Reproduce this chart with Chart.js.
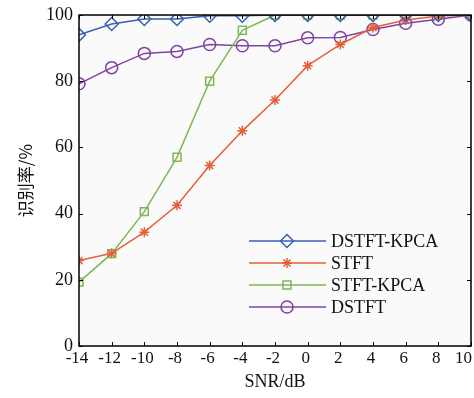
<!DOCTYPE html>
<html>
<head>
<meta charset="utf-8">
<script src="https://cdn.jsdelivr.net/npm/chart.js@4/dist/chart.umd.min.js"></script>
<style>
  html, body { margin: 0; padding: 0; background: #fff; }
  #wrap { width: 474px; height: 398px; }
</style>
</head>
<body>
<div id="wrap"><canvas id="chart"></canvas></div>
<script>
const snr = [-14, -12, -10, -8, -6, -4, -2, 0, 2, 4, 6, 8, 10];
const dstftKpca = [94, 97.3, 98.8, 98.8, 99.8, 99.8, 100, 100, 100, 100, 100, 100, 100];
const stft = [25.8, 28, 34.4, 42.5, 54.5, 65, 74.3, 84.7, 91.1, 96.2, 98.5, 99.7, 100];
const stftKpca = [19.3, 27.9, 40.6, 57, 80, 95.4, 100, 100, 100, 100, 100, 100, 100];
const dstft = [79.2, 84.1, 88.4, 89, 91.1, 90.7, 90.7, 93.1, 93.2, 95.6, 97.5, 98.7, 100];
const seriesNames = ['DSTFT-KPCA', 'STFT', 'STFT-KPCA', 'DSTFT'];
const yTicks = [0, 20, 40, 60, 80, 100];

const serif = '"Liberation Serif", "Times New Roman", serif';
Chart.defaults.font.family = serif;
Chart.defaults.color = '#111';

const toPts = arr => arr.map((v, i) => ({ x: snr[i], y: v }));

const makeSet = function makeSet(label, data, color, style, radius) {
  return {
    label: label,
    data: toPts(data),
    borderColor: color,
    backgroundColor: 'rgba(0,0,0,0)',
    borderWidth: 1.5,
    pointStyle: style,
    pointRadius: radius,
    pointBorderColor: color,
    pointBackgroundColor: 'rgba(0,0,0,0)',
    pointBorderWidth: 1.5,
    tension: 0
  };
}

const frame = {
  id: 'frame',
  beforeDraw: chart => {
    const { ctx, chartArea: a } = chart;
    ctx.save();
    ctx.fillStyle = '#fafafa';
    ctx.fillRect(a.left, a.top, a.right - a.left, a.bottom - a.top);
    ctx.restore();
  },
  afterDraw: chart => {
    const { ctx, chartArea: a } = chart;
    const xs = chart.scales.x, ys = chart.scales.y;
    ctx.save();
    ctx.strokeStyle = '#000';
    ctx.lineWidth = 1.5;
    ctx.strokeRect(a.left, a.top, a.right - a.left, a.bottom - a.top);
    ctx.lineWidth = 1;
    ctx.beginPath();
    snr.forEach(v => {
      const px = Math.round(xs.getPixelForValue(v)) + 0.5;
      ctx.moveTo(px, a.bottom); ctx.lineTo(px, a.bottom - 4);
      ctx.moveTo(px, a.top); ctx.lineTo(px, a.top + 4);
    });
    yTicks.forEach(v => {
      const py = Math.round(ys.getPixelForValue(v)) + 0.5;
      ctx.moveTo(a.left, py); ctx.lineTo(a.left + 4, py);
      ctx.moveTo(a.right, py); ctx.lineTo(a.right - 4, py);
    });
    ctx.stroke();

    // x tick labels, kept inside the canvas at the right end
    ctx.font = '17px ' + serif;
    ctx.fillStyle = '#111';
    ctx.textAlign = 'center';
    ctx.textBaseline = 'top';
    xs.ticks.forEach(t => {
      const s = String(t.value);
      const w = ctx.measureText(s).width;
      let px = xs.getPixelForValue(t.value) - 2;
      px = Math.min(px, chart.width - 2 - w / 2);
      ctx.fillText(s, px, a.bottom + 4);
    });

    // legend: line + marker + text
    const x0 = 249, x1 = 326, mx = 287, tx = 331;
    const rows = [241, 263, 285, 307];
    ctx.font = '18px ' + serif;
    ctx.textBaseline = 'middle';
    ctx.textAlign = 'left';
    chart.data.datasets.forEach((ds, i) => {
      const y = rows[i];
      ctx.strokeStyle = ds.borderColor;
      ctx.fillStyle = 'rgba(0,0,0,0)';
      ctx.lineWidth = 1.5;
      ctx.beginPath();
      ctx.moveTo(x0, y); ctx.lineTo(x1, y);
      ctx.stroke();
      Chart.helpers.drawPoint(ctx, {
        pointStyle: ds.pointStyle,
        radius: ds.pointRadius,
        borderWidth: 1.5,
        rotation: 0
      }, mx, y);
      ctx.fillStyle = '#111';
      ctx.fillText(ds.label, tx, y + 1);
    });
    ctx.restore();
  }
};

new Chart(document.getElementById('chart'), {
  type: 'line',
  plugins: [frame],
  data: {
    datasets: [
      makeSet(seriesNames[0], dstftKpca, '#3a5fb4', 'rectRot', 6.5),
      makeSet(seriesNames[1], stft, '#e4603a', 'star', 5),
      makeSet(seriesNames[2], stftKpca, '#7db756', 'rect', 5.6),
      makeSet(seriesNames[3], dstft, '#8043a2', 'circle', 6)
    ]
  },
  options: {
    responsive: true,
    maintainAspectRatio: false,
    animation: false,
    layout: { autoPadding: false, padding: { left: 0, right: 3, top: 15, bottom: 0 } },
    plugins: {
      legend: { display: false },
      tooltip: { enabled: false }
    },
    scales: {
      x: {
        type: 'linear',
        min: -14,
        max: 10,
        grid: { display: false, drawTicks: false },
        border: { display: false },
        ticks: {
          display: false,
          stepSize: 2,
          autoSkip: false
        },
        title: {
          display: true,
          text: 'SNR/dB',
          color: '#111',
          font: { size: 18 },
          padding: { top: 4, bottom: 5 }
        },
        afterFit: s => {
          s.height = 52;
          s.paddingLeft = 0;
          s.paddingRight = 0;
        }
      },
      y: {
        min: 0,
        max: 100,
        grid: { display: false, drawTicks: false },
        border: { display: false },
        ticks: {
          stepSize: 20,
          padding: 6,
          color: '#111',
          font: { size: 18 }
        },
        title: {
          display: true,
          text: '识别率/%',
          color: '#111',
          font: { size: 17, family: '"Noto Sans CJK SC", sans-serif' },
          padding: { top: 15, bottom: 0 }
        },
        afterFit: s => {
          s.width = 79;
          s.paddingTop = 0;
          s.paddingBottom = 0;
        }
      }
    }
  }
});
</script>
</body>
</html>
